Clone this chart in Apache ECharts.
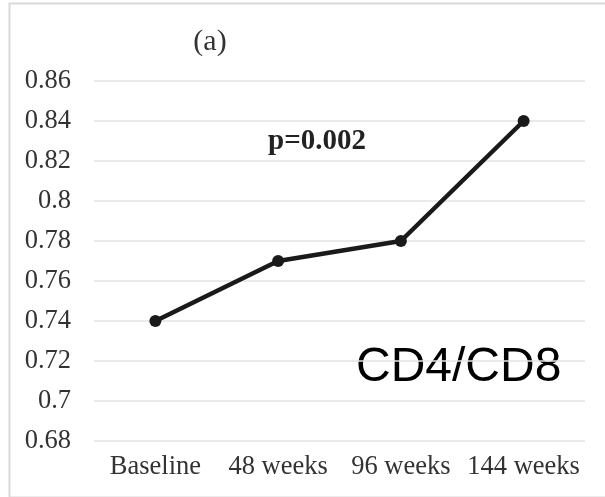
<!DOCTYPE html>
<html>
<head>
<meta charset="utf-8">
<script src="https://cdn.jsdelivr.net/npm/echarts@6/dist/echarts.min.js"></script>
<style>
  html, body { margin: 0; padding: 0; background: #fff; }
  #main { width: 605px; height: 497px; }
</style>
</head>
<body>
<div id="main"></div>
<script>
var categories = ['Baseline', '48 weeks', '96 weeks', '144 weeks'];
var ratioValues = [0.74, 0.77, 0.78, 0.84];
var yMin = 0.68, yMax = 0.86, yStep = 0.02;

var serif = '"Liberation Serif", "DejaVu Serif", serif';

var myChart = echarts.init(document.getElementById('main'));

var option = {
  backgroundColor: '#fff',
  animation: false,
  title: {
    text: '(a)',
    left: 205, top: 22,
    textAlign: 'center',
    textStyle: { fontFamily: serif, fontSize: 30, fontWeight: 'normal', color: '#333' }
  },
  grid: { left: 94, right: 20, top: 81, bottom: 56 },
  xAxis: {
    type: 'category',
    data: categories,
    axisLine: { show: false },
    axisTick: { show: false },
    axisLabel: { fontFamily: serif, fontSize: 26.5, color: '#333', margin: 13, interval: 0 }
  },
  yAxis: {
    type: 'value',
    min: yMin, max: yMax, interval: yStep,
    axisLine: { show: false },
    axisTick: { show: false },
    axisLabel: { fontFamily: serif, fontSize: 26.5, color: '#333', margin: 23 },
    splitLine: { lineStyle: { color: '#e3e3e3', width: 1.5 } }
  },
  series: [{
    type: 'line',
    data: ratioValues,
    symbol: 'circle',
    symbolSize: 12,
    itemStyle: { color: '#1a1a1a' },
    lineStyle: { color: '#1a1a1a', width: 4.5 }
  }],
  graphic: [
    {
      type: 'rect', left: 7, top: 1,
      shape: { width: 610, height: 494 },
      style: { fill: 'none', stroke: '#d9d9d9', lineWidth: 2 },
      silent: true
    },
    {
      type: 'text', left: 268, top: 127,
      style: { text: 'p=0.002', font: 'bold 29px ' + serif, fill: '#222' }
    },
    {
      type: 'text', left: 356, top: 344,
      style: { text: 'CD4/CD8', font: '48px "Liberation Sans", Arial, sans-serif', fill: '#000' }
    }
  ]
};

myChart.setOption(option);

window.onresize = () => {
  myChart.resize()
}
</script>
</body>
</html>
